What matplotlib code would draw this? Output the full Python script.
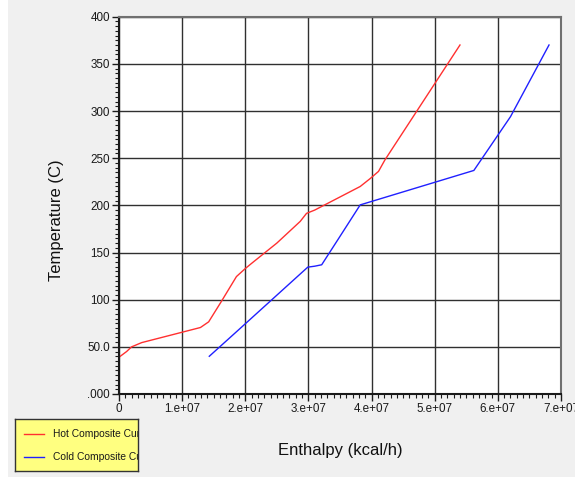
import numpy as np
import matplotlib.pyplot as plt
from matplotlib.patches import Rectangle
from matplotlib.ticker import MultipleLocator
from matplotlib.transforms import Bbox

plt.rcParams['font.family'] = ['Liberation Sans', 'DejaVu Sans']

# hot composite curve (enthalpy in kcal/h, temperature in C)
hot_h = [0, 0.12e7, 0.2e7, 0.36e7, 1.0e7, 1.29e7, 1.42e7, 1.62e7, 1.86e7, 2.0e7,
         2.1e7, 2.5e7, 2.87e7, 2.97e7, 3.1e7, 3.82e7, 3.98e7, 4.11e7, 4.21e7, 5.4e7]
hot_t = [39, 45, 50, 54.5, 65.5, 70.5, 76.5, 98, 124.5, 133,
         138.5, 160, 183, 191.5, 195, 220, 228.5, 236, 248, 370]

# cold composite curve
cold_h = [1.43e7, 1.91e7, 2.99e7, 3.1e7, 3.21e7, 3.47e7, 3.82e7, 5.62e7, 6.2e7, 6.81e7]
cold_t = [40, 69, 134.5, 135.5, 137, 164, 200.5, 237, 294, 370]

xticks = [0, 1e7, 2e7, 3e7, 4e7, 5e7, 6e7, 7e7]
xlabels = ['0', '1.e+07', '2.e+07', '3.e+07', '4.e+07', '5.e+07', '6.e+07', '7.e+07']
yticks = [0, 50, 100, 150, 200, 250, 300, 350, 400]
ylabels = ['.000', '50.0', '100', '150', '200', '250', '300', '350', '400']

W, H = 580, 478
fig = plt.figure(figsize=(W / 100, H / 100), dpi=100, facecolor='white')
# grey panel background
fig.patches.append(Rectangle((8 / W, 1 / H), 567 / W, 1 - 1 / H, transform=fig.transFigure,
                             facecolor='#f0f0f0', edgecolor='none', zorder=-10))

ax = fig.add_axes([119 / W, 84 / H, 442 / W, 377.3 / H])
ax.set_facecolor('white')
ax.plot(hot_h, hot_t, color='#ff3030', lw=1.0)
ax.plot(cold_h, cold_t, color='#2020ff', lw=1.0)

ax.set_xlim(0, 7e7)
ax.set_ylim(0, 400)
ax.set_xticks(xticks)
ax.set_xticklabels(xlabels)
ax.set_yticks(yticks)
ax.set_yticklabels(ylabels)
ax.xaxis.set_minor_locator(MultipleLocator(1e6))
ax.yaxis.set_minor_locator(MultipleLocator(5))
ax.tick_params(which='major', length=5, width=1, labelsize=8.4, colors='#1a1a1a', pad=1.5)
ax.tick_params(which='minor', length=3, width=0.8, colors='#1a1a1a')
ax.grid(True, which='major', color='#303030', lw=1.0)

for s in ['left', 'bottom']:
    ax.spines[s].set_color('#1a1a1a')
    ax.spines[s].set_linewidth(1.5)
for s in ['top', 'right']:
    ax.spines[s].set_color('#707070')
    ax.spines[s].set_linewidth(1.5)

# clip the last tick label at the panel edge, like the original
fig.canvas.draw()
clip = Bbox.from_extents(0, 0, 575, H)
for lbl in ax.get_xticklabels():
    lbl.set_clip_box(clip)
    lbl.set_clip_on(True)

fig.text(56 / W, 1 - 220 / H, 'Temperature (C)', rotation=90, ha='center', va='center',
         fontsize=12, color='#111111')
fig.text(340 / W, 1 - 450 / H, 'Enthalpy (kcal/h)', ha='center', va='center',
         fontsize=12, color='#111111')

# legend box (text cut off at the box edge)
lax = fig.add_axes([15 / W, (H - 471) / H, 123 / W, 52 / H])
lax.set_xlim(0, 123)
lax.set_ylim(0, 52)
lax.set_facecolor('#ffff80')
for s in lax.spines.values():
    s.set_color('#333333')
    s.set_linewidth(1)
lax.set_xticks([])
lax.set_yticks([])
lax.plot([9, 29], [37, 37], color='#ff3030', lw=1)
lax.plot([9, 29], [14, 14], color='#2020ff', lw=1)
lax.text(38, 37, 'Hot Composite Curve', va='center', fontsize=7.4, color='#1a1a1a', clip_on=True)
lax.text(38, 14, 'Cold Composite Curve', va='center', fontsize=7.4, color='#1a1a1a', clip_on=True)

fig.savefig('out.png', dpi=100, facecolor=fig.get_facecolor())
